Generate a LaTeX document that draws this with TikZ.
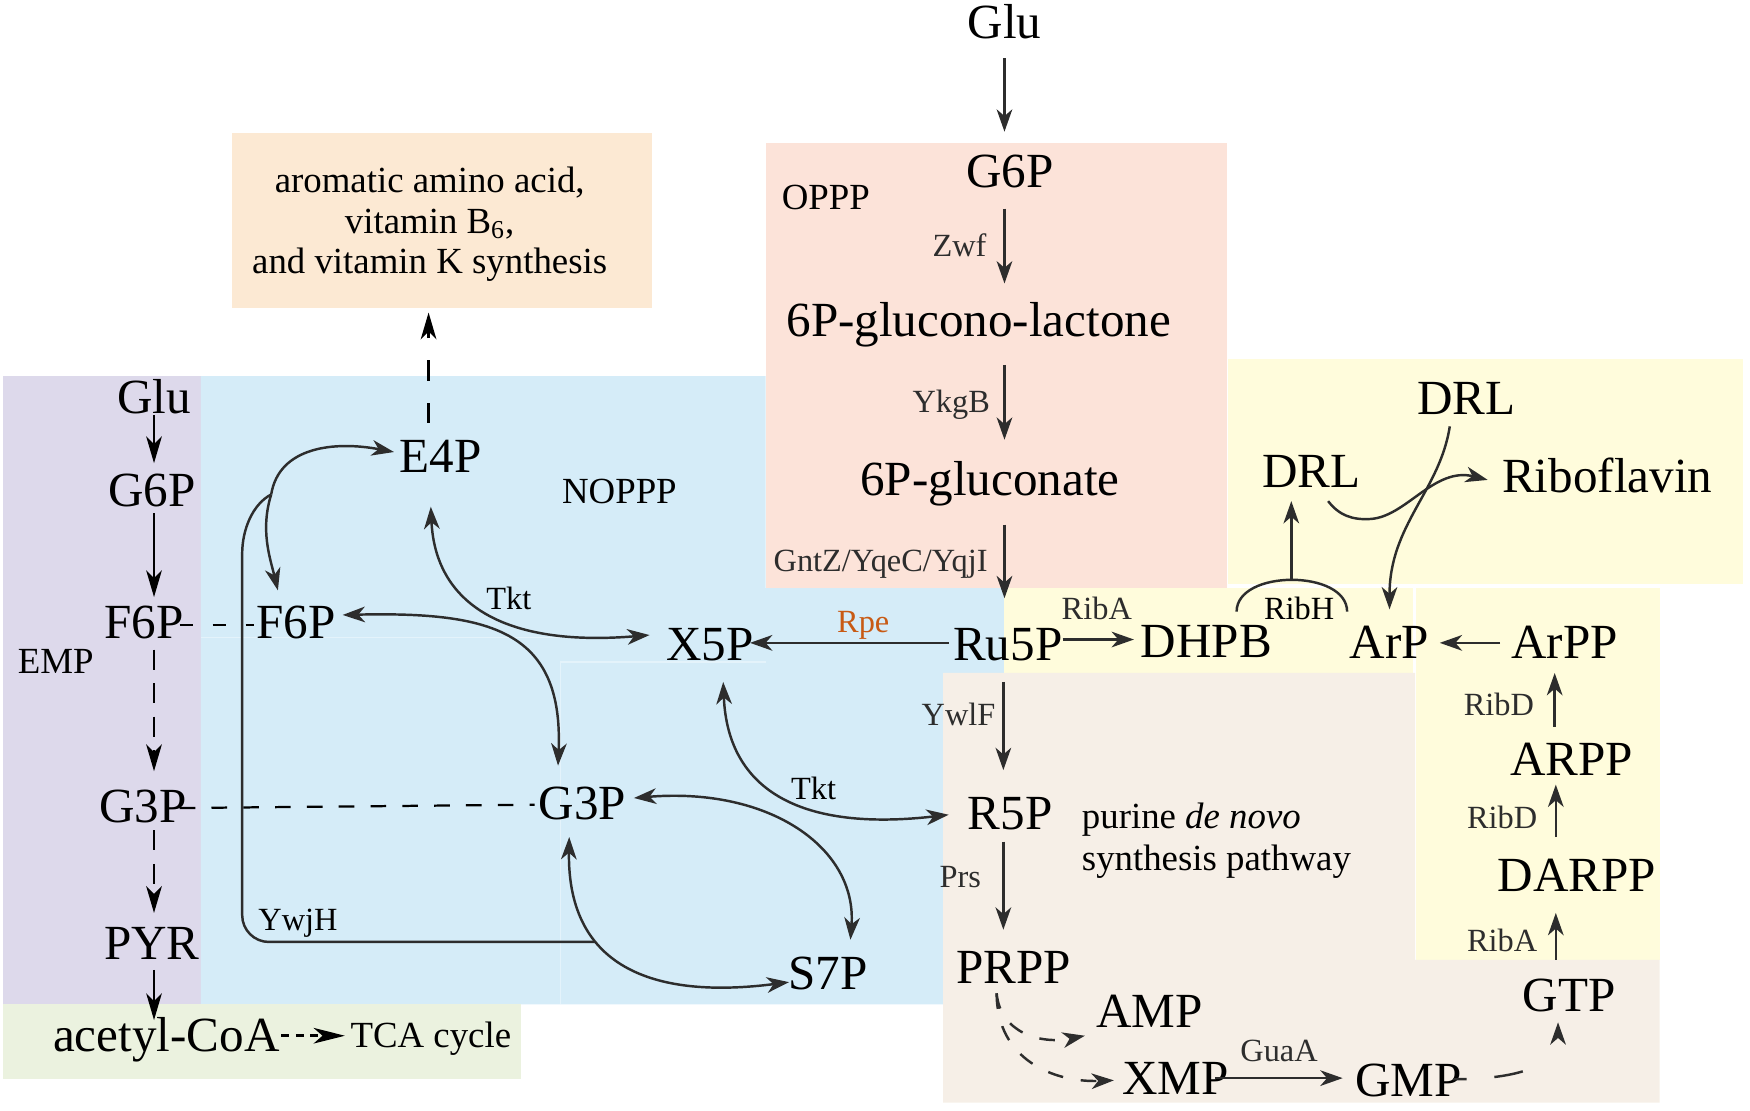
\documentclass[tikz,border=0pt]{standalone}
\usepackage{fontspec}
\setmainfont{Liberation Serif}
\usetikzlibrary{arrows.meta, calc}
\definecolor{ink}{RGB}{45,45,45}
\definecolor{sky}{RGB}{213,236,248}
\definecolor{lilac}{RGB}{221,217,235}
\definecolor{salmon}{RGB}{252,227,217}
\definecolor{peach}{RGB}{252,233,211}
\definecolor{cream}{RGB}{255,252,220}
\definecolor{sand}{RGB}{246,239,231}
\definecolor{mint}{RGB}{235,242,223}
\definecolor{seam}{RGB}{228,243,251}
\definecolor{rpeorange}{RGB}{200,90,20}

\begin{document}
\begin{tikzpicture}[x=0.5pt, y=-0.5pt, >={Stealth[length=10pt, width=7pt, inset=3pt]},
  met/.style={font=\fontsize{22}{26}\selectfont, inner sep=0pt, text height=14.4pt, text depth=0pt},
  tag/.style={font=\fontsize{16.5}{19}\selectfont, inner sep=0pt, text height=10.8pt, text depth=0pt},
  enz/.style={font=\fontsize{14.5}{17}\selectfont, inner sep=0pt, text height=9.5pt, text depth=0pt},
  flux/.style={color=ink, line width=1.1pt},
  emp/.style={color=black, line width=1.2pt, >={Stealth[length=12pt, width=7pt, inset=3.5pt]}}]
  \useasboundingbox (0,0) rectangle (1568,995);

  \fill[peach] (208,119) rectangle (584,276);
  \fill[salmon] (686,128) rectangle (1099,527);
  \fill[lilac] (3,337) rectangle (180,900);
  \fill[sky] (180,337) -- (686,337) -- (686,527) -- (900,527) -- (900,603)
    -- (845,603) -- (845,900) -- (180,900) -- cycle;
  \fill[mint] (3,900) rectangle (467,967);
  \fill[cream] (1100,322) rectangle (1562,523);
  \fill[cream] (900,527) rectangle (1266,603);
  \fill[cream] (1269,527) rectangle (1487,860);
  \fill[sand] (845,603) -- (1268,603) -- (1268,860) -- (1487,860) -- (1487,988)
    -- (845,988) -- cycle;
  \draw[seam, line width=0.6pt] (180,571) -- (502,571) (502,593) -- (686,593) (502,593) -- (502,900);

  \node[met] (gluTop) at (900,20) {Glu};
  \node[met] (g6pO) at (905,154) {G6P};
  \node[met] (lac) at (877,287) {6P-glucono-lactone};
  \node[met] (glc) at (887,430) {6P-gluconate};
  \node[met] (ru5p) at (903,577) {Ru5P};
  \node[met] (x5p) at (636,577) {X5P};
  \node[met] (dhpb) at (1081,575) {DHPB};
  \node[met] (arp) at (1245,576) {ArP};
  \node[met] (arpp) at (1402,576) {ArPP};
  \node[met] (arpp2) at (1408,680) {ARPP};
  \node[met] (darpp) at (1413,784) {DARPP};
  \node[met] (gtp) at (1406,892) {GTP};
  \node[met] (drlA) at (1175,422) {DRL};
  \node[met] (drlB) at (1314,357) {DRL};
  \node[met] (ribo) at (1440,427) {Riboflavin};
  \node[met] (r5p) at (905,729) {R5P};
  \node[met] (prpp) at (908,867) {PRPP};
  \node[met] (amp) at (1030,906) {AMP};
  \node[met] (xmp) at (1053,966) {XMP};
  \node[met] (gmp) at (1262,968) {GMP};
  \node[met] (e4p) at (395,409) {E4P};
  \node[met] (f6pR) at (265,558) {F6P};
  \node[met] (g3pR) at (522,720) {G3P};
  \node[met] (s7p) at (742,872) {S7P};
  \node[met] (gluL) at (138,356) {Glu};
  \node[met] (g6pL) at (136,439) {G6P};
  \node[met] (f6pL) at (129,558) {F6P};
  \node[met] (g3pL) at (128,723) {G3P};
  \node[met] (pyr) at (136,845) {PYR};
  \node[met] (acoa) at (149,928) {acetyl-CoA};
  \node[tag] (tca) at (386,928) {TCA cycle};
  \node[tag] (emp) at (50,593) {EMP};
  \node[tag] (noppp) at (555,440) {NOPPP};
  \node[tag] (oppp) at (740,177) {OPPP};
  \node[font=\fontsize{16.5}{19}\selectfont, inner sep=0pt, align=left, anchor=west] (purine)
    at (969,753) {purine \textit{de novo}\\synthesis pathway};
  \node[font=\fontsize{16.5}{18}\selectfont, inner sep=0pt, align=center] (aro)
    at (385,201) {aromatic amino acid,\\vitamin B\textsubscript{6},\\and vitamin K synthesis};
  \node[enz] (tktA) at (456,537) {Tkt};
  \node[enz] (tktB) at (729,707) {Tkt};
  \node[enz] (ywjh) at (267,824) {YwjH};
  \node[enz] (ribH) at (1164,546) {RibH};
  \coordinate (ywjS) at (533,844);
  \coordinate (ywjJ) at (243,443);
  \coordinate (ribHtop) at (1157,520);

  \path[->, flux]
    ($(gluTop)+(0,32)$) edge ($(g6pO)+(-5,-36)$)
    ($(g6pO)+(-5,33)$) edge node[enz, left=7.5pt] {Zwf} ($(lac)+(23,-33)$)
    ($(lac)+(23,40)$) edge node[enz, left=6pt] {YkgB} ($(glc)+(13,-36)$)
    ($(glc)+(13,40)$) edge node[enz, left=7pt] {GntZ/YqeC/YqjI} ($(ru5p)+(-3,-41)$)
    ($(ru5p)+(-53,-1)$) edge node[enz, above=4.25pt, pos=.43, text=rpeorange] {Rpe} ($(x5p)+(36,-1)$)
    ($(ru5p)+(49,-4)$) edge node[enz, above=8.25pt, pos=.48] {RibA} ($(dhpb)+(-65,-2)$)
    ($(ru5p)+(-4,34)$) edge node[enz, left=3pt, pos=.37] {YwlF} ($(r5p)+(-6,-39)$)
    ($(r5p)+(-6,25)$) edge node[enz, left=9.5pt, pos=.4] {Prs} ($(prpp)+(-9,-34)$)
    ($(xmp)+(36,0)$) edge node[enz, above=6.75pt] {GuaA} ($(gmp)+(-59,-2)$)
    ($(gtp)+(-12,-32)$) edge node[enz, left=7.75pt, pos=.4] {RibA} ($(darpp)+(-19,34)$)
    ($(darpp)+(-19,-34)$) edge node[enz, left=7.75pt, pos=.36] {RibD} ($(arpp2)+(-14,23)$)
    ($(arpp2)+(-15,-29)$) edge node[enz, left=8.75pt, pos=.4] {RibD} ($(arpp)+(-9,27)$)
    ($(arpp)+(-58,0)$) edge ($(arp)+(45,0)$)
    (ribHtop) edge ($(drlA)+(-18,27)$);

  \draw[flux] ($(dhpb)+(27,-27)$) .. controls +(0,-38) and +(0,-38) .. ($(arp)+(-38,-28)$);
  \draw[->, flux] ($(drlB)+(-15,25)$) .. controls +(-9,58) and +(0,-76) .. ($(arp)+(0,-30)$);
  \draw[->, flux] ($(drlA)+(15,27)$) .. controls +(10,13) and +(-16,1) .. (1228,465)
    .. controls +(32,-2) and +(-48,-12) .. ($(ribo)+(-107,3)$);

  \draw[<->, flux] ($(e4p)+(-9,45)$) .. controls +(4,86) and +(-132,11) .. ($(x5p)+(-54,-8)$);
  \draw[<->, flux] ($(f6pR)+(42,-7)$) .. controls +(133,-3) and +(5,-121) .. ($(g3pR)+(-22,-34)$);
  \draw[<->, flux] ($(x5p)+(12,34)$) .. controls +(4,99) and +(-130,15) .. ($(r5p)+(-55,1)$);
  \draw[<->, flux] ($(g3pR)+(46,-5)$) .. controls +(122,-10) and +(6,-82) .. ($(s7p)+(20,-30)$);
  \draw[<->, flux] ($(g3pR)+(-12,30)$) .. controls +(-2,120) and +(-117,15) .. ($(s7p)+(-35,8)$);
  \draw[flux, rounded corners=12pt] (ywjS) -| (217,520) .. controls (217,475) and (226,452) .. (ywjJ);
  \draw[->, flux] (ywjJ) .. controls +(7,-43) and +(-53,-10) .. ($(e4p)+(-42,-4)$);
  \draw[->, flux] (ywjJ) .. controls +(-10,32) and +(-7,-29) .. ($(f6pR)+(-16,-29)$);

  \draw[->, flux, dash pattern=on 7pt off 8pt] ($(prpp)+(-15,23)$) .. controls +(3,35) and +(-40,8) .. ($(amp)+(-58,22)$);
  \draw[->, flux, dash pattern=on 7pt off 8pt] ($(prpp)+(-15,23)$) .. controls +(0,60) and +(-53,2) .. ($(xmp)+(-55,2)$);
  \draw[->, flux, dash pattern=on 6pt off 12.5pt on 13pt off 30pt] ($(gmp)+(40,-1)$) .. controls +(58,0) and +(0,39) .. ($(gtp)+(-10,24)$);

  \path[->, emp]
    ($(gluL)+(0,16)$) edge ($(g6pL)+(2,-24)$)
    ($(g6pL)+(2,21)$) edge ($(f6pL)+(9,-23)$)
    ($(pyr)+(2,24)$) edge ($(acoa)+(-11,-14)$);
  \path[->, emp, dash pattern=on 9pt off 6pt]
    ($(f6pL)+(9,24)$) edge ($(g3pL)+(10,-32)$)
    ($(g3pL)+(10,21)$) edge ($(pyr)+(2,-27)$);
  \draw[->, emp, >={Stealth[length=14pt, width=7pt, inset=4pt]}, dash pattern=on 3.5pt off 3pt]
    ($(acoa)+(103,0)$) -- ($(tca)+(-77,0)$);
  \draw[->, emp, dash pattern=on 9pt off 10pt] ($(e4p)+(-11,-30)$) -- ($(aro)+(-1,79)$);
  \draw[emp, line width=1pt, dash pattern=on 6pt off 8.75pt] ($(f6pL)+(32,2)$) -- ($(f6pR)+(-37,2)$);
  \draw[emp, line width=1pt, dash pattern=on 7pt off 7.25pt] ($(g3pL)+(33,1)$) -- ($(g3pR)+(-43,1)$);
\end{tikzpicture}
\end{document}
